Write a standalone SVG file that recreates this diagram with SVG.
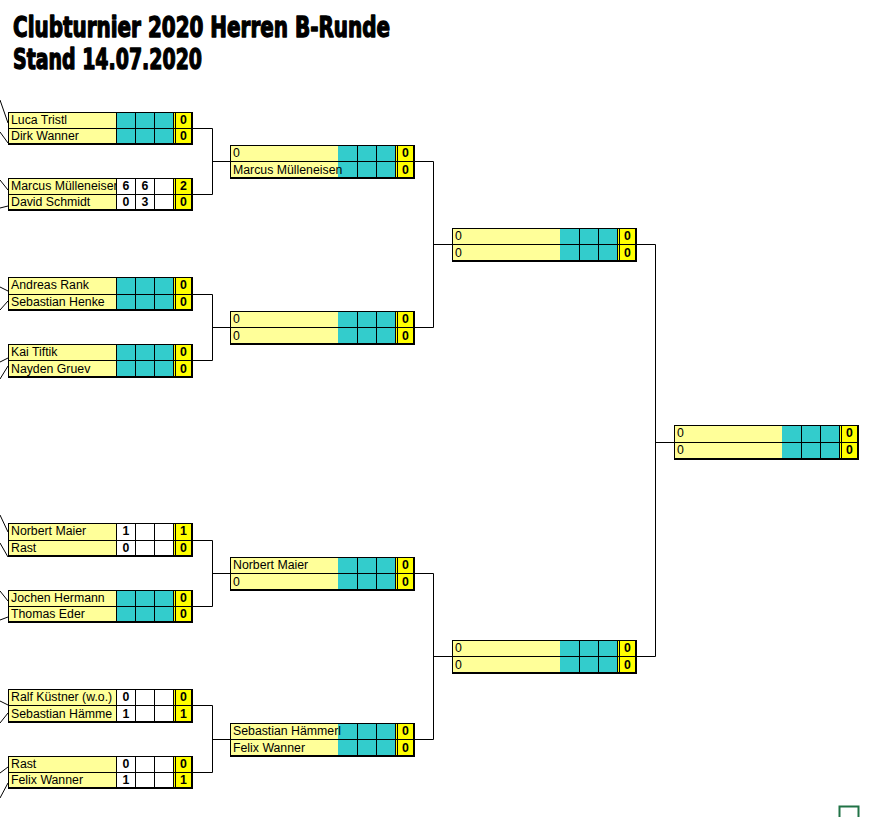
<svg xmlns="http://www.w3.org/2000/svg" width="872" height="817" viewBox="0 0 872 817">
<style>
.nm{fill:#FFFF99}.sc{fill:#33CCCC}.wh{fill:#FFFFFF}.tt{fill:#FFFF00}
.ln{fill:none;stroke:#000;stroke-width:1}
.bk{fill:none;stroke:#000;stroke-width:2}
.cn{fill:none;stroke:#000;stroke-width:1}
.t{font-family:"Liberation Sans",Arial,sans-serif;font-size:12.3px;fill:#000}
.b{font-weight:bold;text-anchor:middle}
.h{font-family:"DejaVu Sans Condensed","DejaVu Sans",sans-serif;font-weight:bold;font-stretch:condensed;font-size:28px;fill:#000;stroke:#000;stroke-width:1.3;stroke-linejoin:round}
</style>
<defs>
<clipPath id="c1"><rect x="8" y="0" width="108" height="817"/></clipPath>
</defs>
<rect width="872" height="817" fill="#fff"/>
<g id="title">
<text class="h" x="13" y="37" textLength="377" lengthAdjust="spacingAndGlyphs">Clubturnier 2020 Herren B-Runde</text>
<text class="h" x="13" y="69" textLength="189" lengthAdjust="spacingAndGlyphs">Stand 14.07.2020</text>
</g>
<g id="connectors">
<path class="cn" d="M193 128.5H212.5V194.5H193M212.5 161.5H230"/>
<path class="cn" d="M193 294.5H212.5V360.5H193M212.5 327.5H230"/>
<path class="cn" d="M193 540.5H212.5V606.5H193M212.5 573.5H230"/>
<path class="cn" d="M193 705.5H212.5V772.5H193M212.5 739.5H230"/>
<path class="cn" d="M415 161.5H433.5V327.5H415M433.5 244.5H452"/>
<path class="cn" d="M415 573.5H433.5V739.5H415M433.5 656.5H452"/>
<path class="cn" d="M637 244.5H655.5V656.5H637M655.5 442.5H674"/>
<path class="cn" d="M0 100L8 123M0 132L8 143M0 180L8 190M0 208L8 206M0 287L8 291M0 310L8 301M0 362L8 358M0 379L8 366M0 515L8 532M0 543L8 557M0 591L8 601M0 620L8 617M0 701L8 705M0 723L8 713M0 773L8 767M0 798L8 783"/>
</g>
<g id="r1m1">
<rect class="nm" x="8" y="112" width="108" height="32"/><rect class="sc" x="116" y="112" width="57" height="32"/><rect class="tt" x="173" y="112" width="19" height="32"/>
<text class="t" x="11" y="124" clip-path="url(#c1)">Luca Tristl</text><text class="t" x="11" y="140" clip-path="url(#c1)">Dirk Wanner</text>
<text class="t b" x="183.5" y="124">0</text><text class="t b" x="183.5" y="140">0</text>
<path class="ln" d="M8 112.5H192M8 128.5H192M8.5 112V144M116.5 112V144M135.5 112V144M154.5 112V144M173.5 112V144M175.5 112V144"/>
<path class="bk" d="M8 144H193M192 112V145"/>
</g>
<g id="r1m2">
<rect class="nm" x="8" y="178" width="108" height="32"/><rect class="wh" x="116" y="178" width="57" height="32"/><rect class="tt" x="173" y="178" width="19" height="32"/>
<text class="t" x="11" y="190" clip-path="url(#c1)">Marcus Mülleneiser</text><text class="t" x="11" y="206" clip-path="url(#c1)">David Schmidt</text>
<text class="t b" x="126" y="190">6</text><text class="t b" x="145" y="190">6</text><text class="t b" x="183.5" y="190">2</text>
<text class="t b" x="126" y="206">0</text><text class="t b" x="145" y="206">3</text><text class="t b" x="183.5" y="206">0</text>
<path class="ln" d="M8 178.5H192M8 194.5H192M8.5 178V210M116.5 178V210M135.5 178V210M154.5 178V210M173.5 178V210M175.5 178V210"/>
<path class="bk" d="M8 210H193M192 178V211"/>
</g>
<g id="r1m3">
<rect class="nm" x="8" y="277" width="108" height="33"/><rect class="sc" x="116" y="277" width="57" height="33"/><rect class="tt" x="173" y="277" width="19" height="33"/>
<text class="t" x="11" y="289" clip-path="url(#c1)">Andreas Rank</text><text class="t" x="11" y="306" clip-path="url(#c1)">Sebastian Henke</text>
<text class="t b" x="183.5" y="289">0</text><text class="t b" x="183.5" y="306">0</text>
<path class="ln" d="M8 277.5H192M8 294.5H192M8.5 277V310M116.5 277V310M135.5 277V310M154.5 277V310M173.5 277V310M175.5 277V310"/>
<path class="bk" d="M8 310H193M192 277V311"/>
</g>
<g id="r1m4">
<rect class="nm" x="8" y="344" width="108" height="33"/><rect class="sc" x="116" y="344" width="57" height="33"/><rect class="tt" x="173" y="344" width="19" height="33"/>
<text class="t" x="11" y="356" clip-path="url(#c1)">Kai Tiftik</text><text class="t" x="11" y="373" clip-path="url(#c1)">Nayden Gruev</text>
<text class="t b" x="183.5" y="356">0</text><text class="t b" x="183.5" y="373">0</text>
<path class="ln" d="M8 344.5H192M8 360.5H192M8.5 344V377M116.5 344V377M135.5 344V377M154.5 344V377M173.5 344V377M175.5 344V377"/>
<path class="bk" d="M8 377H193M192 344V378"/>
</g>
<g id="r1m5">
<rect class="nm" x="8" y="523" width="108" height="33"/><rect class="wh" x="116" y="523" width="57" height="33"/><rect class="tt" x="173" y="523" width="19" height="33"/>
<text class="t" x="11" y="535" clip-path="url(#c1)">Norbert Maier</text><text class="t" x="11" y="552" clip-path="url(#c1)">Rast</text>
<text class="t b" x="126" y="535">1</text><text class="t b" x="183.5" y="535">1</text>
<text class="t b" x="126" y="552">0</text><text class="t b" x="183.5" y="552">0</text>
<path class="ln" d="M8 523.5H192M8 540.5H192M8.5 523V556M116.5 523V556M135.5 523V556M154.5 523V556M173.5 523V556M175.5 523V556"/>
<path class="bk" d="M8 556H193M192 523V557"/>
</g>
<g id="r1m6">
<rect class="nm" x="8" y="590" width="108" height="32"/><rect class="sc" x="116" y="590" width="57" height="32"/><rect class="tt" x="173" y="590" width="19" height="32"/>
<text class="t" x="11" y="602" clip-path="url(#c1)">Jochen Hermann</text><text class="t" x="11" y="618" clip-path="url(#c1)">Thomas Eder</text>
<text class="t b" x="183.5" y="602">0</text><text class="t b" x="183.5" y="618">0</text>
<path class="ln" d="M8 590.5H192M8 606.5H192M8.5 590V622M116.5 590V622M135.5 590V622M154.5 590V622M173.5 590V622M175.5 590V622"/>
<path class="bk" d="M8 622H193M192 590V623"/>
</g>
<g id="r1m7">
<rect class="nm" x="8" y="689" width="108" height="33"/><rect class="wh" x="116" y="689" width="57" height="33"/><rect class="tt" x="173" y="689" width="19" height="33"/>
<text class="t" x="11" y="701" clip-path="url(#c1)">Ralf Küstner (w.o.)</text><text class="t" x="11" y="718" clip-path="url(#c1)">Sebastian Hämme</text>
<text class="t b" x="126" y="701">0</text><text class="t b" x="183.5" y="701">0</text>
<text class="t b" x="126" y="718">1</text><text class="t b" x="183.5" y="718">1</text>
<path class="ln" d="M8 689.5H192M8 705.5H192M8.5 689V722M116.5 689V722M135.5 689V722M154.5 689V722M173.5 689V722M175.5 689V722"/>
<path class="bk" d="M8 722H193M192 689V723"/>
</g>
<g id="r1m8">
<rect class="nm" x="8" y="756" width="108" height="32"/><rect class="wh" x="116" y="756" width="57" height="32"/><rect class="tt" x="173" y="756" width="19" height="32"/>
<text class="t" x="11" y="768" clip-path="url(#c1)">Rast</text><text class="t" x="11" y="784" clip-path="url(#c1)">Felix Wanner</text>
<text class="t b" x="126" y="768">0</text><text class="t b" x="183.5" y="768">0</text>
<text class="t b" x="126" y="784">1</text><text class="t b" x="183.5" y="784">1</text>
<path class="ln" d="M8 756.5H192M8 772.5H192M8.5 756V788M116.5 756V788M135.5 756V788M154.5 756V788M173.5 756V788M175.5 756V788"/>
<path class="bk" d="M8 788H193M192 756V789"/>
</g>
<g id="r2m1">
<rect class="nm" x="230" y="145" width="108" height="33"/><rect class="sc" x="338" y="145" width="57" height="33"/><rect class="tt" x="395" y="145" width="19" height="33"/>
<text class="t" x="233" y="157">0</text><text class="t" x="233" y="174">Marcus Mülleneisen</text>
<text class="t b" x="405.5" y="157">0</text><text class="t b" x="405.5" y="174">0</text>
<path class="ln" d="M230 145.5H414M230 161.5H414M230.5 145V178M357.5 145V178M376.5 145V178M395.5 145V178M397.5 145V178"/>
<path class="bk" d="M230 178H415M414 145V179"/>
</g>
<g id="r2m2">
<rect class="nm" x="230" y="311" width="108" height="33"/><rect class="sc" x="338" y="311" width="57" height="33"/><rect class="tt" x="395" y="311" width="19" height="33"/>
<text class="t" x="233" y="323">0</text><text class="t" x="233" y="340">0</text>
<text class="t b" x="405.5" y="323">0</text><text class="t b" x="405.5" y="340">0</text>
<path class="ln" d="M230 311.5H414M230 327.5H414M230.5 311V344M357.5 311V344M376.5 311V344M395.5 311V344M397.5 311V344"/>
<path class="bk" d="M230 344H415M414 311V345"/>
</g>
<g id="r2m3">
<rect class="nm" x="230" y="557" width="108" height="33"/><rect class="sc" x="338" y="557" width="57" height="33"/><rect class="tt" x="395" y="557" width="19" height="33"/>
<text class="t" x="233" y="569">Norbert Maier</text><text class="t" x="233" y="586">0</text>
<text class="t b" x="405.5" y="569">0</text><text class="t b" x="405.5" y="586">0</text>
<path class="ln" d="M230 557.5H414M230 573.5H414M230.5 557V590M357.5 557V590M376.5 557V590M395.5 557V590M397.5 557V590"/>
<path class="bk" d="M230 590H415M414 557V591"/>
</g>
<g id="r2m4">
<rect class="nm" x="230" y="723" width="108" height="33"/><rect class="sc" x="338" y="723" width="57" height="33"/><rect class="tt" x="395" y="723" width="19" height="33"/>
<text class="t" x="233" y="735">Sebastian Hämmerl</text><text class="t" x="233" y="752">Felix Wanner</text>
<text class="t b" x="405.5" y="735">0</text><text class="t b" x="405.5" y="752">0</text>
<path class="ln" d="M230 723.5H414M230 739.5H414M230.5 723V756M357.5 723V756M376.5 723V756M395.5 723V756M397.5 723V756"/>
<path class="bk" d="M230 756H415M414 723V757"/>
</g>
<g id="r3m1">
<rect class="nm" x="452" y="228" width="108" height="33"/><rect class="sc" x="560" y="228" width="57" height="33"/><rect class="tt" x="617" y="228" width="19" height="33"/>
<text class="t" x="455" y="240">0</text><text class="t" x="455" y="257">0</text>
<text class="t b" x="627.5" y="240">0</text><text class="t b" x="627.5" y="257">0</text>
<path class="ln" d="M452 228.5H636M452 244.5H636M452.5 228V261M579.5 228V261M598.5 228V261M617.5 228V261M619.5 228V261"/>
<path class="bk" d="M452 261H637M636 228V262"/>
</g>
<g id="r3m2">
<rect class="nm" x="452" y="640" width="108" height="33"/><rect class="sc" x="560" y="640" width="57" height="33"/><rect class="tt" x="617" y="640" width="19" height="33"/>
<text class="t" x="455" y="652">0</text><text class="t" x="455" y="669">0</text>
<text class="t b" x="627.5" y="652">0</text><text class="t b" x="627.5" y="669">0</text>
<path class="ln" d="M452 640.5H636M452 656.5H636M452.5 640V673M579.5 640V673M598.5 640V673M617.5 640V673M619.5 640V673"/>
<path class="bk" d="M452 673H637M636 640V674"/>
</g>
<g id="final">
<rect class="nm" x="674" y="425" width="108" height="34"/><rect class="sc" x="782" y="425" width="57" height="34"/><rect class="tt" x="839" y="425" width="19" height="34"/>
<text class="t" x="677" y="437">0</text><text class="t" x="677" y="454">0</text>
<text class="t b" x="849.5" y="437">0</text><text class="t b" x="849.5" y="454">0</text>
<path class="ln" d="M674 425.5H858M674 442.5H858M674.5 425V459M801.5 425V459M820.5 425V459M839.5 425V459M841.5 425V459"/>
<path class="bk" d="M674 459H859M858 425V460"/>
</g>
<path d="M839.5 817V806.5H858.5V817" fill="none" stroke="#217346" stroke-width="2"/>
</svg>
